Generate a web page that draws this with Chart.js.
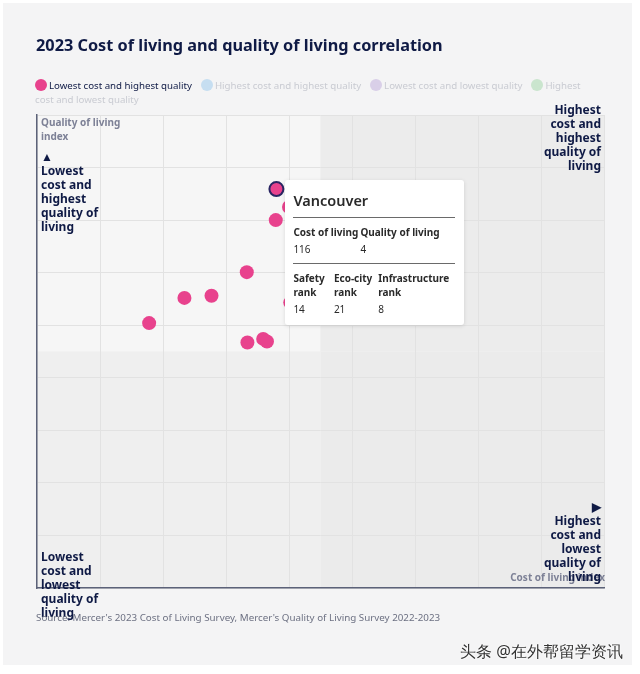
<!DOCTYPE html>
<html>
<head>
<meta charset="utf-8">
<script src="https://cdn.jsdelivr.net/npm/chart.js@4.4.1/dist/chart.umd.min.js"></script>
<style>
html, body { margin: 0; padding: 0; background: #fff; }
body { width: 640px; height: 674px; position: relative; overflow: hidden; font-family: "Noto Sans", sans-serif; }
#card { position: absolute; left: 3px; top: 3px; width: 629px; height: 662px; background: #f4f4f5; }
#chart { position: absolute; left: 0; top: 0; }
.abs { position: absolute; }
#title { left: 36px; top: 34px; font-size: 16.3px; font-weight: 700; color: #0f1a45; white-space: nowrap; }
#legend { left: 35px; top: 79px; width: 556px; font-size: 9.7px; line-height: 14px; color: #0f1a45; }
#legend .item { margin-right: 9px; }
#legend .dot { display: inline-block; width: 12px; height: 12px; border-radius: 50%; vertical-align: -2px; margin-right: 2px; }
#legend .off { color: #c9cbd2; }
.qlabel { font-size: 12px; font-weight: 700; line-height: 14px; color: #0f1a45; }
.axtitle { font-size: 10px; font-weight: 700; line-height: 14px; color: #7d8196; }
#source { left: 36px; top: 611px; font-size: 9.8px; color: #6c7082; white-space: nowrap; }
#mark { left: 460px; top: 640px; font-size: 16.3px; color: #333; text-shadow: 0 0 2px #fff, 0 0 2px #fff; white-space: nowrap; }
#tip { position: absolute; background: #fff; width: 179px; height: 145px; box-sizing: border-box; padding: 0 9px 0 8px;
       border-radius: 3px; box-shadow: 0 1px 4px rgba(0,0,0,0.12); color: #2a2a2a; display: none; }
#tip .tt { font-size: 14.5px; font-weight: 600; line-height: 18px; margin-top: 11px; }
#tip .rule { border-top: 1.5px solid #6a6a6a; margin: 8px 0 7px 0; }
#tip .row { display: flex; font-size: 10px; line-height: 14px; }
#tip .h { font-weight: 700; }
</style>
</head>
<body>
<div id="card"></div>
<canvas id="chart" width="640" height="674"></canvas>
<div id="title" class="abs">2023 Cost of living and quality of living correlation</div>
<div id="legend" class="abs"></div>
<div class="abs axtitle" style="left:41px;top:115px;">Quality of living<br>index</div>
<div class="abs qlabel" style="left:41px;top:150px;">&#9650;</div>
<div class="abs qlabel" style="left:41px;top:164px;">Lowest<br>cost and<br>highest<br>quality of<br>living</div>
<div class="abs qlabel" style="right:39px;top:103px;text-align:right;">Highest<br>cost and<br>highest<br>quality of<br>living</div>
<div class="abs axtitle" style="right:35px;top:570px;text-align:right;">Cost of living index</div>
<div class="abs qlabel" style="right:39px;top:500px;text-align:right;">&#9654;<br>Highest<br>cost and<br>lowest<br>quality of<br>living</div>
<div class="abs qlabel" style="left:41px;top:550px;">Lowest<br>cost and<br>lowest<br>quality of<br>living</div>
<div id="source" class="abs">Source: Mercer's 2023 Cost of Living Survey, Mercer's Quality of Living Survey 2022-2023</div>
<div id="mark" class="abs">头条 @在外帮留学资讯</div>
<div id="tip"></div>
<script>
// Data (axis has no tick labels, so index units are estimated)
const costIndex = [38.0, 40.0, 37.9, 33.3, 23.4, 27.7, 40.2, 17.8, 33.4, 35.9, 36.5];
const qualityIndex = [75.9, 72.5, 70.0, 60.1, 55.2, 55.6, 54.3, 50.4, 46.7, 47.4, 46.9];
const groupLabels = ['Lowest cost and highest quality', 'Highest cost and highest quality', 'Lowest cost and lowest quality', 'Highest cost and lowest quality'];
const groupColors = ['#e8428d', '#c6def1', '#d9cfe8', '#cae5ce'];
const groupShown = [true, false, false, false];

// Tooltip shown for the highlighted city
const tipCity = 'Vancouver';
const tipIndex = 0;
const tipTop = [['Cost of living', '116'], ['Quality of living', '4']];
const tipBottom = [['Safety<br>rank', '14'], ['Eco-city<br>rank', '21'], ['Infrastructure<br>rank', '8']];

const axisMin = 0, axisMax = 90, axisMid = 45;

// Legend
const legendDiv = document.getElementById('legend');
legendDiv.innerHTML = groupLabels.map((l, i) =>
    '<span class="item' + (groupShown[i] ? '' : ' off') + '"><span class="dot" style="background:' + groupColors[i] + '"></span>' + l + '</span>'
).join('');

// Quadrant background shading
const quadrants = {
    id: 'quadrants',
    beforeDraw(chart) {
        const { ctx, chartArea: a, scales } = chart;
        const mx = scales.x.getPixelForValue(axisMid);
        const my = scales.y.getPixelForValue(axisMid);
        ctx.save();
        ctx.fillStyle = '#f6f6f6'; ctx.fillRect(a.left, a.top, mx - a.left, my - a.top);
        ctx.fillStyle = '#ececec'; ctx.fillRect(mx, a.top, a.right - mx, my - a.top);
        ctx.fillStyle = '#efefef'; ctx.fillRect(a.left, my, mx - a.left, a.bottom - my);
        ctx.fillStyle = '#ebebeb'; ctx.fillRect(mx, my, a.right - mx, a.bottom - my);
        ctx.restore();
    }
};

const tipDiv = document.getElementById('tip');
function externalTip(context) {
    const t = context.tooltip;
    if (t.opacity === 0) { tipDiv.style.display = 'none'; return; }
    let html = '<div class="tt">' + tipCity + '</div><div class="rule"></div>';
    html += '<div class="row">' + tipTop.map((c, i) => '<div style="width:' + (i === 0 ? 67 : 90) + 'px"><div class="h">' + c[0] + '</div><div style="margin-top:3px">' + c[1] + '</div></div>').join('') + '</div>';
    html += '<div class="rule" style="margin-top:7px"></div>';
    html += '<div class="row">' + tipBottom.map((c, i) => '<div style="width:' + [42, 46, 80][i] + 'px"><div class="h">' + c[0] + '</div><div style="margin-top:3px">' + c[1] + '</div></div>').join('') + '</div>';
    tipDiv.innerHTML = html;
    tipDiv.style.left = (t.caretX + 9) + 'px';
    tipDiv.style.top = (t.caretY - 9) + 'px';
    tipDiv.style.display = 'block';
}

const datasets = groupLabels.map((label, i) => ({
    label: label,
    data: i === 0 ? costIndex.map((x, k) => ({ x: x, y: qualityIndex[k] })) : [],
    hidden: !groupShown[i],
    backgroundColor: groupColors[i],
    borderColor: groupColors[i],
    pointRadius: 7,
    pointBorderWidth: 0,
    pointHoverRadius: 7,
    pointHoverBorderWidth: 2,
    pointHoverBorderColor: '#2a2663',
    pointHoverBackgroundColor: groupColors[i]
}));

const axisOpts = {
    min: axisMin, max: axisMax,
    ticks: { display: false, stepSize: 10 },
    grid: { color: '#e2e2e2', drawTicks: false, lineWidth: 1 },
    border: { display: true, color: '#5c6279', width: 1.5 }
};

const chart = new Chart(document.getElementById('chart').getContext('2d'), {
    type: 'scatter',
    data: { datasets: datasets },
    options: {
        responsive: false,
        animation: false,
        events: [],
        layout: { padding: { left: 37, top: 115, right: 36, bottom: 86 } },
        scales: { x: axisOpts, y: axisOpts },
        plugins: {
            legend: { display: false },
            tooltip: { enabled: false, external: externalTip }
        }
    },
    plugins: [quadrants]
});

const active = [{ datasetIndex: 0, index: tipIndex }];
const pt = chart.getDatasetMeta(0).data[tipIndex];
chart.setActiveElements(active);
chart.tooltip.setActiveElements(active, { x: pt.x, y: pt.y });
chart.update();
</script>
</body>
</html>
